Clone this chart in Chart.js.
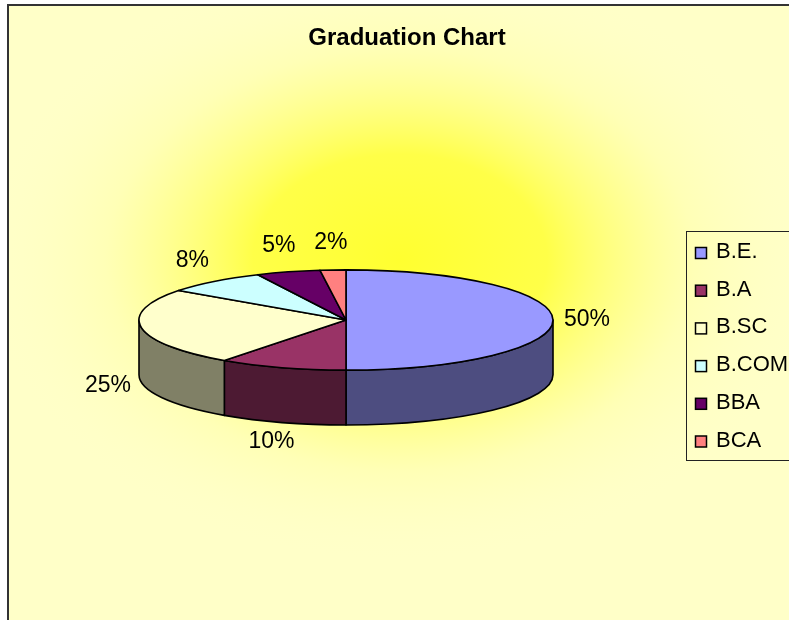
<!DOCTYPE html>
<html>
<head>
<meta charset="utf-8">
<script src="https://cdn.jsdelivr.net/npm/chart.js@4.4.1/dist/chart.umd.min.js"></script>
<style>
  body { margin: 0; background: #fff; }
  canvas { display: block; }
</style>
</head>
<body>
<canvas id="gradChart" width="789" height="620"></canvas>
<script>
// Data
const courses = ['B.E.', 'B.A', 'B.SC', 'B.COM', 'BBA', 'BCA'];
const shares = [50, 10, 25, 8, 5, 2];
const sliceColors = ['#9999FF', '#993366', '#FFFFCC', '#CCFFFF', '#660066', '#FF8080'];
const chartTitle = 'Graduation Chart';

const FONT = '"Liberation Sans", Arial, sans-serif';
const TILT = 0.242;   // ellipse ratio of top face
const DEPTH = 0.265;  // wall height relative to radius

function shade(hex, f) {
  const n = parseInt(hex.slice(1), 16);
  const r = Math.round(((n >> 16) & 255) * f);
  const g = Math.round(((n >> 8) & 255) * f);
  const b = Math.round((n & 255) * f);
  return `rgb(${r},${g},${b})`;
}

// 3D pie + frame, title, labels, legend
const pie3d = {
  id: 'pie3d',
  beforeDraw(chart) {
    const { ctx, width, height } = chart;
    ctx.save();
    ctx.fillStyle = '#fff';
    ctx.fillRect(0, 0, width, height);
    ctx.fillStyle = '#FFFFC8';
    ctx.fillRect(8, 5, width - 8, height - 5);
    // soft yellow glow from the middle
    ctx.save();
    ctx.beginPath();
    ctx.rect(8, 5, width - 8, height - 5);
    ctx.clip();
    ctx.translate(400, 260);
    ctx.scale(1, 0.72);
    const g = ctx.createRadialGradient(0, 0, 0, 0, 0, 420);
    g.addColorStop(0, '#FFFF30');
    g.addColorStop(0.35, '#FFFF48');
    g.addColorStop(0.7, 'rgba(255,255,170,0.6)');
    g.addColorStop(1, 'rgba(255,255,200,0)');
    ctx.fillStyle = g;
    ctx.fillRect(-450, -500, 900, 1000);
    ctx.restore();
    // frame lines
    ctx.strokeStyle = '#333';
    ctx.lineWidth = 2;
    ctx.beginPath();
    ctx.moveTo(8, height);
    ctx.lineTo(8, 5);
    ctx.lineTo(width, 5);
    ctx.stroke();
    // title
    ctx.fillStyle = '#000';
    ctx.font = 'bold 24px ' + FONT;
    ctx.textAlign = 'center';
    ctx.textBaseline = 'middle';
    ctx.fillText(chartTitle, 407, 38);
    ctx.restore();
  },
  beforeDatasetsDraw(chart) {
    const { ctx } = chart;
    const arcs = chart.getDatasetMeta(0).data;
    const colors = chart.data.datasets[0].backgroundColor;
    const cx = arcs[0].x, cy = arcs[0].y, rx = arcs[0].outerRadius;
    const ry = rx * TILT, d = rx * DEPTH;
    ctx.save();
    ctx.strokeStyle = '#000';
    ctx.lineWidth = 1.6;
    ctx.lineJoin = 'round';
    // front walls
    arcs.forEach((a, i) => {
      const lo = Math.max(a.startAngle, 0);
      const hi = Math.min(a.endAngle, Math.PI);
      if (hi <= lo) return;
      ctx.beginPath();
      ctx.ellipse(cx, cy, rx, ry, 0, lo, hi, false);
      ctx.ellipse(cx, cy + d, rx, ry, 0, hi, lo, true);
      ctx.closePath();
      ctx.fillStyle = shade(colors[i], 0.5);
      ctx.fill();
      ctx.stroke();
    });
    // top faces
    arcs.forEach((a, i) => {
      ctx.beginPath();
      ctx.moveTo(cx, cy);
      ctx.ellipse(cx, cy, rx, ry, 0, a.startAngle, a.endAngle, false);
      ctx.closePath();
      ctx.fillStyle = colors[i];
      ctx.fill();
      ctx.stroke();
    });
    ctx.restore();
    return false;
  },
  afterDraw(chart) {
    const { ctx } = chart;
    const arcs = chart.getDatasetMeta(0).data;
    const values = chart.data.datasets[0].data;
    const total = values.reduce((s, v) => s + v, 0);
    const cx = arcs[0].x, cy = arcs[0].y, rx = arcs[0].outerRadius;
    const ry = rx * TILT, d = rx * DEPTH;
    ctx.save();
    ctx.fillStyle = '#000';
    ctx.font = '23px ' + FONT;
    ctx.textAlign = 'center';
    ctx.textBaseline = 'middle';
    arcs.forEach((a, i) => {
      const mid = (a.startAngle + a.endAngle) / 2;
      const s = Math.sin(mid);
      const front = s > 0.01;
      const x = cx + (rx + 34) * Math.cos(mid);
      const y = cy + (ry + (front ? 20 : 27)) * s + (front ? d * Math.min(1, s * 8) : 0);
      ctx.fillText(Math.round(values[i] / total * 100) + '%', x, y);
    });
    // legend
    ctx.strokeStyle = '#222';
    ctx.lineWidth = 1;
    ctx.strokeRect(686.5, 231.5, 130, 229);
    ctx.font = '22px ' + FONT;
    ctx.textAlign = 'left';
    chart.data.labels.forEach((lab, i) => {
      const yc = 253 + i * 37.7;
      ctx.fillStyle = chart.data.datasets[0].backgroundColor[i];
      ctx.fillRect(695.5, yc - 5.5, 11, 11);
      ctx.lineWidth = 1.5;
      ctx.strokeStyle = '#000';
      ctx.strokeRect(695.5, yc - 5.5, 11, 11);
      ctx.fillStyle = '#000';
      ctx.fillText(lab, 716, yc - 1);
    });
    ctx.restore();
  }
};

new Chart(document.getElementById('gradChart'), {
  type: 'pie',
  data: {
    labels: courses,
    datasets: [{
      data: shares,
      backgroundColor: sliceColors,
      borderWidth: 0
    }]
  },
  options: {
    responsive: false,
    animation: false,
    devicePixelRatio: 1,
    layout: { padding: { left: 139, right: 236, top: 113, bottom: 93 } },
    plugins: {
      legend: { display: false },
      title: { display: false },
      tooltip: { enabled: false }
    }
  },
  plugins: [pie3d]
});
</script>
</body>
</html>
